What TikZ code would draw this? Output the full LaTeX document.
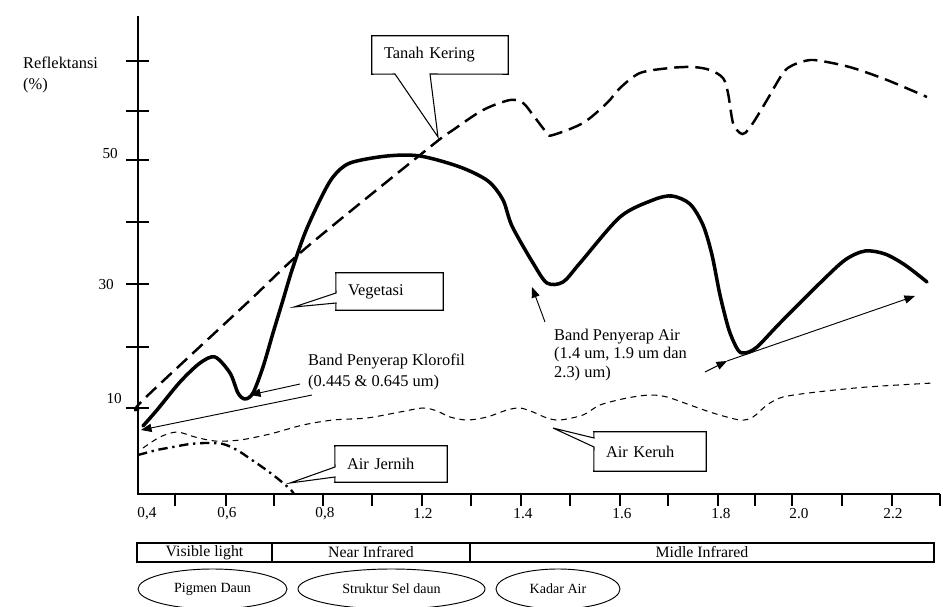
\documentclass[tikz,border=0pt]{standalone}
\usepackage{fontspec}
\setmainfont{Liberation Serif}
\usepackage{tikz}
\usetikzlibrary{arrows.meta,shapes.geometric}
\tikzset{
  axisline/.style={draw=black,line width=1pt},
  vegline/.style={draw=black,line width=3pt,line join=round,line cap=round},
  soilline/.style={draw=black,line width=2.1pt,dash pattern=on 12pt off 6pt},
  clearline/.style={draw=black,line width=2pt,dash pattern=on 8pt off 4pt on 2pt off 4pt},
  turbidline/.style={draw=black,line width=0.9pt,dash pattern=on 5pt off 4pt},
  pointer/.style={draw=black,line width=0.8pt,-{Triangle[length=9pt,width=7pt]}},
  calloutline/.style={draw=black,line width=0.9pt},
  lbl/.style={font=\fontsize{14}{16}\selectfont,inner sep=0pt},
  ticklbl/.style={font=\fontsize{13}{15}\selectfont,inner sep=0pt},
  callbox/.style={inner xsep=0.36cm,inner ysep=0pt,align=left,
    font=\fontsize{14}{16}\selectfont},
  band/.style={draw,line width=0.9pt,minimum height=0.57cm,inner sep=0pt,
    font=\fontsize{13.5}{16}\selectfont},
  region/.style={ellipse,draw,line width=0.8pt,minimum height=1.2cm,inner sep=0pt,
    font=\fontsize{12}{14}\selectfont}
}

\begin{document}
\begin{tikzpicture}[x=0.03cm,y=-0.03cm]
  \useasboundingbox (0,0) rectangle (943,606);
  % axes
  \coordinate (top) at (138,16);
  \coordinate (origin) at (138,494);
  \coordinate (xend) at (940,494);
  \draw[axisline] (top) -- (origin) -- (xend);
  \foreach \y in {61,111,160,222,284,347,408}
    \draw[axisline] (126,\y) -- (149,\y);
  \foreach \x in {175,226,274,323,372,422,471,521,570,620,668,718,755,792,842,892,940}
    \draw[axisline] (\x,494) -- (\x,506);
  \node[lbl,anchor=west,align=left,font=\fontsize{14}{18.7}\selectfont]
    (reflabel) at (23,75) {Reflektansi\\(\%)};
  \node[ticklbl,anchor=east] (y50) at (118,154) {50};
  \node[ticklbl,anchor=east] (y30) at (114,285) {30};
  \node[ticklbl,anchor=east] (y10) at (122,399) {10};
  \foreach \x/\t [count=\i] in {147/{0,4},227/{0,6},325/{0,8},423/1.2,523/1.4,
      622/1.6,721/1.8,799/2.0,893/2.2}
    \node[ticklbl] (xlab\i) at (\x,514) {\t};

  % curves
  \draw[vegline] plot[smooth,tension=0.5] coordinates {
    (143,426) (157,410) (180,382) (200,363) (215,357) (230,373) (238,393)
    (245,399) (253,393) (263,367) (273,333) (283,300) (292,270) (305,233)
    (320,200) (333,177) (350,163) (387,156) (420,156) (460,167) (488,181)
    (503,200) (512,226) (533,263) (547,283) (563,282) (580,263) (620,217)
    (653,200) (672,196) (690,204) (703,225) (712,255) (720,295) (729,330)
    (738,350) (745,353) (757,347) (780,323) (820,283) (845,260) (865,251)
    (885,254) (905,265) (927,282)};
  \draw[soilline] plot[smooth,tension=0.5] coordinates {
    (139,409) (143,400) (247,303) (307,247) (430,147) (453,130) (483,110)
    (510,100) (523,103) (533,115) (547,133) (553,135) (583,123) (607,103)
    (620,88) (640,73) (670,68) (693,67) (710,70) (723,78) (728,93) (733,123)
    (740,133) (745,133) (753,123) (767,100) (783,73) (793,65) (810,60)
    (827,62) (853,68) (887,80) (927,97)};
  \draw[clearline] plot[smooth,tension=0.5] coordinates {
    (138,455) (157,450) (173,447) (190,444) (207,443) (223,444) (237,450)
    (252,460) (265,469) (277,478) (290,489) (294,494)};
  \draw[turbidline] plot[smooth,tension=0.5] coordinates {
    (143,448) (160,437) (177,432) (195,437) (215,441) (240,440) (270,434)
    (303,425) (333,420) (367,418) (400,412) (423,408) (437,411) (450,417)
    (467,420) (487,417) (507,410) (520,408) (533,412) (547,418) (560,420)
    (583,415) (600,405) (627,398) (650,395) (667,397) (690,405) (713,413)
    (740,420) (753,417) (767,405) (783,397) (817,392) (867,387) (933,383)};

  % callouts
  \node[callbox,text width=3.36cm,minimum height=1.14cm] (tanah) at (440,55) {Tanah Kering};
  \coordinate (tanahA) at (395,74);
  \coordinate (tanahB) at (430,74);
  \coordinate (tanahtip) at (438,137);
  \draw[calloutline] (tanah.north west) -- (tanah.north east) -- (tanah.south east)
    -- (tanahB) -- (tanahtip) -- (tanahA) -- (tanah.south west) -- cycle;

  \node[callbox,text width=2.49cm,minimum height=1.11cm] (vegetasi) at (389.5,291.5) {Vegetasi};
  \coordinate (vegA) at (336,293);
  \coordinate (vegB) at (336,303);
  \coordinate (vegtip) at (294,307);
  \draw[calloutline] (vegetasi.north west) -- (vegetasi.north east) -- (vegetasi.south east)
    -- (vegetasi.south west) -- (vegB) -- (vegtip) -- (vegA) -- cycle;

  \node[callbox,text width=2.64cm,minimum height=1.08cm] (jernih) at (391,464) {Air Jernih};
  \coordinate (jernihA) at (335,467);
  \coordinate (jernihB) at (335,477);
  \coordinate (jernihtip) at (290,483);
  \draw[calloutline] (jernih.north west) -- (jernih.north east) -- (jernih.south east)
    -- (jernih.south west) -- (jernihB) -- (jernihtip) -- (jernihA) -- cycle;

  \node[callbox,text width=2.64cm,minimum height=1.17cm] (keruh) at (650,451.5) {Air Keruh};
  \coordinate (keruhA) at (594,438);
  \coordinate (keruhB) at (594,447);
  \coordinate (keruhtip) at (553,428);
  \draw[calloutline] (keruh.north west) -- (keruh.north east) -- (keruh.south east)
    -- (keruh.south west) -- (keruhB) -- (keruhtip) -- (keruhA) -- cycle;

  % absorption bands
  \node[lbl,anchor=west,align=left,font=\fontsize{14}{17.9}\selectfont]
    (klorofil) at (308,372) {Band Penyerap Klorofil\\(0.445 \& 0.645 um)};
  \coordinate (klo1) at (300,384);
  \coordinate (klo1tip) at (250,395);
  \coordinate (klo2) at (312,395);
  \coordinate (klo2tip) at (141,430);
  \draw[pointer] (klo1) -- (klo1tip);
  \draw[pointer] (klo2) -- (klo2tip);

  \node[lbl,anchor=west,align=left,font=\fontsize{14}{15.7}\selectfont]
    (airband) at (554,355) {Band Penyerap Air\\(1.4 um, 1.9 um dan\\2.3) um)};
  \coordinate (air1) at (545,322);
  \coordinate (air1tip) at (532,287);
  \coordinate (air2) at (705,372);
  \coordinate (air2tip) at (727,361);
  \coordinate (air3tip) at (915,296);
  \draw[pointer] (air1) -- (air1tip);
  \draw[pointer] (air2) -- (air2tip);
  \draw[pointer] (air2tip) -- (air3tip);

  % spectrum regions
  \node[band,minimum width=4.05cm] (visible) at (204.5,552.5) {Visible light};
  \node[band,minimum width=5.94cm] (nearir) at (371,552.5) {Near Infrared};
  \node[band,minimum width=13.92cm] (midir) at (702,552.5) {Midle Infrared};
  \node[region,minimum width=4.47cm] (pigmen) at (212.5,589) {Pigmen Daun};
  \node[region,minimum width=5.61cm] (struktur) at (391.5,589) {Struktur Sel daun};
  \node[region,minimum width=3.72cm] (kadar) at (558,589) {Kadar Air};
\end{tikzpicture}
\end{document}
